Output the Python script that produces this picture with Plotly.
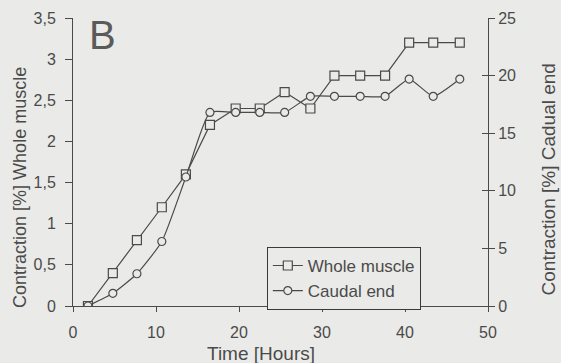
import plotly.graph_objects as go

# ---- data ----
time_hours = [1.8, 4.8, 7.7, 10.7, 13.6, 16.5, 19.6, 22.5, 25.5, 28.6, 31.5, 34.6, 37.6, 40.5, 43.4, 46.6]
whole_muscle = [0, 0.4, 0.8, 1.2, 1.6, 2.2, 2.4, 2.4, 2.6, 2.4, 2.8, 2.8, 2.8, 3.2, 3.2, 3.2]
caudal_end = [0, 1.1, 2.8, 5.6, 11.2, 16.8, 16.8, 16.8, 16.8, 18.2, 18.2, 18.2, 18.2, 19.7, 18.2, 19.7]

left_tickvals = [0, 0.5, 1, 1.5, 2, 2.5, 3, 3.5]
left_ticktext = ["0", "0,5", "1", "1,5", "2", "2,5", "3", "3,5"]
right_tickvals = [0, 5, 10, 15, 20, 25]
x_tickvals = [0, 10, 20, 30, 40, 50]

BG = "#eaeae8"
INK = "#4a4a4a"
FONT = "Liberation Sans, Arial, sans-serif"

fig = go.Figure()
fig.add_trace(go.Scatter(
    x=time_hours, y=whole_muscle, name="Whole muscle", mode="lines+markers",
    line=dict(color=INK, width=1.2),
    marker=dict(symbol="square", size=9, color=BG, line=dict(color=INK, width=1.2)),
    yaxis="y"))
fig.add_trace(go.Scatter(
    x=time_hours, y=caudal_end, name="Caudal end", mode="lines+markers",
    line=dict(color=INK, width=1.2, shape="spline", smoothing=0.5),
    marker=dict(symbol="circle", size=8, color=BG, line=dict(color=INK, width=1.2)),
    yaxis="y2"))
# helper trace so the cross-tick overlay axis is drawn
fig.add_trace(go.Scatter(x=[time_hours[0]], y=[caudal_end[0]], yaxis="y3", mode="markers",
                         marker=dict(opacity=0), showlegend=False, hoverinfo="skip"))

fig.update_layout(
    template="none",
    width=561, height=363,
    margin=dict(l=73, r=73, t=18, b=57, pad=0),
    paper_bgcolor=BG, plot_bgcolor=BG,
    font=dict(family=FONT, color=INK, size=16),
    showlegend=True,
    legend=dict(x=0.467, y=0.205, xanchor="left", yanchor="top",
                bgcolor=BG, bordercolor="#3a3a3a", borderwidth=1,
                font=dict(size=17, color=INK), tracegroupgap=0),
    xaxis=dict(range=[0, 50], tickvals=x_tickvals, showgrid=False, zeroline=False,
               showline=True, linecolor=INK, linewidth=1, ticks="outside", ticklen=5,
               tickcolor=INK, tickfont=dict(size=16), automargin=False,
               ticklabelstandoff=7),
    yaxis=dict(range=[0, 3.5], tickvals=left_tickvals, ticktext=left_ticktext,
               showgrid=False, zeroline=False, showline=True, linecolor=INK, linewidth=1,
               ticks="outside", ticklen=7, tickcolor=INK, tickfont=dict(size=16),
               automargin=False, ticklabelstandoff=6),
    yaxis2=dict(range=[0, 25], tickvals=right_tickvals, overlaying="y", side="right",
                showgrid=False, zeroline=False, showline=True, linecolor=INK, linewidth=1,
                ticks="outside", ticklen=6, tickcolor=INK, tickfont=dict(size=16),
                automargin=False),
    yaxis3=dict(range=[0, 25], tickvals=right_tickvals, overlaying="y", side="right",
                showgrid=False, zeroline=False, showline=False, showticklabels=False,
                ticks="inside", ticklen=6, tickcolor=INK, automargin=False),
    annotations=[
        dict(text="B", xref="paper", yref="paper", x=0.034, y=0.94, xanchor="left",
             yanchor="middle", showarrow=False, font=dict(size=40, color="#5a5a5a")),
        dict(text="Contraction [%] Whole muscle", xref="paper", yref="paper",
             x=-0.128, y=0.413, xanchor="center", yanchor="middle", textangle=-90,
             showarrow=False, font=dict(size=18, color=INK)),
        dict(text="Contraction [%] Cadual end", xref="paper", yref="paper",
             x=1.145, y=0.44, xanchor="center", yanchor="middle", textangle=-90,
             showarrow=False, font=dict(size=19, color=INK)),
        dict(text="Time [Hours]", xref="paper", yref="paper",
             x=0.453, y=-0.165, xanchor="center", yanchor="middle",
             showarrow=False, font=dict(size=19, color=INK)),
    ],
)

fig.write_html(
    "out.html",
    config={"displayModeBar": False},
    post_script="document.body.style.margin='0';document.body.style.background='#eaeae8';",
)
